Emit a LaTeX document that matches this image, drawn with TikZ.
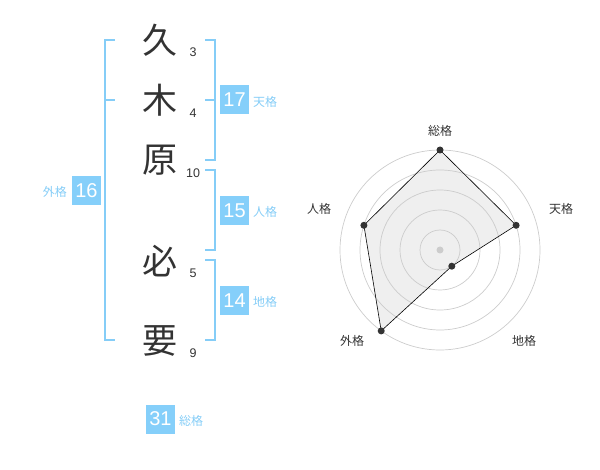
\documentclass[tikz,border=0pt]{standalone}
\usepackage{fontspec}
\setmainfont{Liberation Sans}
\newfontfamily\cjk{Noto Sans CJK JP}
\definecolor{kblue}{HTML}{85CFFA}
\definecolor{kline}{HTML}{85CDF7}
\definecolor{kdark}{HTML}{333333}
\definecolor{kgrid}{HTML}{CCCCCC}
\definecolor{kfill}{HTML}{EFEFEF}
\begin{document}
\begin{tikzpicture}[x=1bp,y=-1bp,
  kanji/.style={inner sep=0pt,text=kdark,font=\cjk\fontsize{35bp}{36bp}\selectfont},
  stroke/.style={inner sep=0pt,text=kdark,font=\fontsize{12.5bp}{13bp}\selectfont},
  scorebox/.style={fill=kblue,text=white,minimum width=29bp,minimum height=29bp,inner sep=0pt,font=\fontsize{20bp}{20bp}\selectfont},
  kaku/.style={inner sep=0pt,text=kline,font=\cjk\fontsize{12bp}{12bp}\selectfont},
  bracket/.style={draw=kline,line width=2bp},
  ring/.style={draw=kgrid,line width=0.7bp},
  rlabel/.style={inner sep=0pt,text=kdark,font=\cjk\fontsize{12bp}{12bp}\selectfont},
  rdot/.style={circle,fill=kdark,inner sep=0pt,minimum size=7bp}]
\useasboundingbox (0,0) rectangle (600,470);
% characters
\node[kanji] (c1) at (160,40) {久};
\node[kanji] (c2) at (160,100) {木};
\node[kanji] (c3) at (160,160) {原};
\node[kanji] (c4) at (160,261) {必};
\node[kanji] (c5) at (160,341) {要};
\node[stroke] (n1) at (193,52.5) {3};
\node[stroke] (n2) at (193,113) {4};
\node[stroke] (n3) at (193,173) {10};
\node[stroke] (n4) at (193,273) {5};
\node[stroke] (n5) at (193,353) {9};
% brackets
\coordinate (lt) at (115,40); \coordinate (lb) at (115,340);
\draw[bracket] (lt) -- (105,40) -- (105,340) -- (lb);
\draw[bracket] (105,100) -- (115,100);
\draw[bracket] (205,40) -- (215,40) -- (215,160) -- (205,160);
\draw[bracket] (215,100) -- (205,100);
\draw[bracket] (205,170) -- (215,170) -- (215,250) -- (205,250);
\draw[bracket] (205,260) -- (215,260) -- (215,340) -- (205,340);
% score boxes
\node[scorebox] (b16) at (86.5,190.5) {16};
\node[kaku,anchor=east] (k16) at (67,192) {外格};
\node[scorebox] (b17) at (234.5,100) {17};
\node[kaku,anchor=west] (k17) at (253,102) {天格};
\node[scorebox] (b15) at (234.5,210.5) {15};
\node[kaku,anchor=west] (k15) at (253,212) {人格};
\node[scorebox] (b14) at (234.5,300.5) {14};
\node[kaku,anchor=west] (k14) at (253,302) {地格};
\node[scorebox] (b31) at (160.5,419) {31};
\node[kaku,anchor=west] (k31) at (179,421) {総格};
% radar
\coordinate (O) at (440,250);
\path (O) ++(0,-100) coordinate (pS);
\path (O) ++(76.1,-24.7) coordinate (pT);
\path (O) ++(11.8,16.2) coordinate (pD);
\path (O) ++(-58.8,80.9) coordinate (pG);
\path (O) ++(-76.1,-24.7) coordinate (pJ);
\fill[kfill] (pS) -- (pT) -- (pD) -- (pG) -- (pJ) -- cycle;
\foreach \r in {20,40,60,80,100} \draw[ring] (O) circle (\r);
\draw[black,line width=0.6bp] (pS) -- (pT) -- (pD) -- (pG) -- (pJ) -- cycle;
\foreach \p in {pS,pT,pD,pG,pJ} \node[rdot] at (\p) {};
\node[circle,fill=kgrid,inner sep=0pt,minimum size=7bp] (ctr) at (O) {};
\node[rlabel] (rS) at (440,130.5) {総格};
\node[rlabel] (rT) at (561,208.5) {天格};
\node[rlabel] (rD) at (524,341) {地格};
\node[rlabel] (rG) at (352,341) {外格};
\node[rlabel] (rJ) at (319,208.5) {人格};
\end{tikzpicture}
\end{document}
